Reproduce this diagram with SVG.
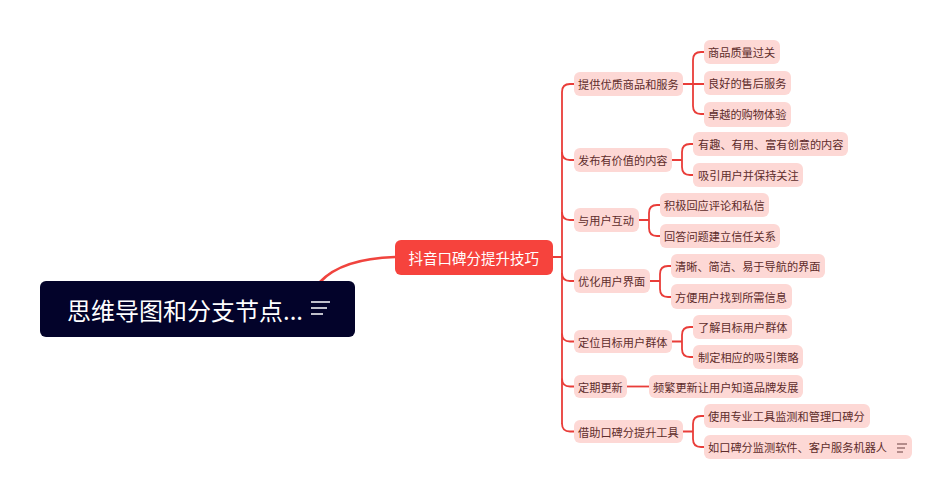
<svg xmlns="http://www.w3.org/2000/svg" width="952" height="500" viewBox="0 0 952 500">
<style>
text{font-family:"Noto Sans CJK SC","Noto Sans",sans-serif;dominant-baseline:central}
.n rect{fill:#fdd8d5}
.n text{font-size:11.2px;fill:#5e2c2b}
.c{fill:none;stroke:#e93d39;stroke-width:1.8}
.i{fill:none;stroke:#6b4040;stroke-width:1}
</style>
<rect width="952" height="500" fill="#fff"/>
<g id="connectors">
<path class="c" style="stroke-width:2.6;stroke:#f0443e" d="M320 282C335 266 362 258 395 257"/>
<path class="c" d="M553 257H562M562 92V424"/>
<path class="c" d="M562 92Q562 84 570 84H574M562 152Q562 160 570 160H574M562 212Q562 220 570 220H574M562 273Q562 281 570 281H574M562 333.500Q562 341.500 570 341.500H574M562 378.500Q562 386.500 570 386.500H574M562 423.500Q562 431.500 570 431.500H574"/>
<path class="c" d="M683 84H704M704 52H701Q693 52 693 60V106Q693 114 701 114H704"/>
<path class="c" d="M672 160H682M693 144H690Q682 144 682 152V167Q682 175 690 175H693"/>
<path class="c" d="M639 220H649M660 205H657Q649 205 649 213V228Q649 236 657 236H660"/>
<path class="c" d="M650 281H660M671 266H668Q660 266 660 274V289Q660 297 668 297H671"/>
<path class="c" d="M672 341.500H682M693 327H690Q682 327 682 335V349Q682 357 690 357H693"/>
<path class="c" d="M627 386.500H649"/>
<path class="c" d="M683 431.500H693M704 416H701Q693 416 693 424V439Q693 447 701 447H704"/>
</g>
<g id="root"><rect x="40" y="281" width="315" height="56" rx="6" fill="#03032a"/><text x="67" y="309.500" font-size="24" fill="#fff">思维导图和分支节点...</text><path d="M311 302H330M311 308H327M311 314H323" fill="none" stroke="#fff" stroke-width="1.500"/></g>
<g id="center"><rect x="395" y="240" width="158" height="35" rx="6" fill="#f6433d"/><text x="408.500" y="257" font-size="14.500" fill="#fff">抖音口碑分提升技巧</text></g>
<g class="n" id="a1"><rect x="574" y="72" width="109" height="24" rx="6"/><text x="578" y="83.500">提供优质商品和服务</text></g>
<g class="n" id="a1-1"><rect x="704" y="40" width="76" height="24" rx="6"/><text x="708" y="51.500">商品质量过关</text></g>
<g class="n" id="a1-2"><rect x="704" y="71" width="87" height="24" rx="6"/><text x="708" y="82.500">良好的售后服务</text></g>
<g class="n" id="a1-3"><rect x="704" y="102" width="87" height="25" rx="6"/><text x="708" y="113.500">卓越的购物体验</text></g>
<g class="n" id="a2"><rect x="574" y="148" width="98" height="24" rx="6"/><text x="578" y="159.500">发布有价值的内容</text></g>
<g class="n" id="a2-1"><rect x="693" y="132" width="155" height="24" rx="6"/><text x="698" y="144">有趣、有用、富有创意的内容</text></g>
<g class="n" id="a2-2"><rect x="693" y="163" width="110" height="24" rx="6"/><text x="698" y="174.500">吸引用户并保持关注</text></g>
<g class="n" id="a3"><rect x="574" y="208" width="65" height="24" rx="6"/><text x="578" y="219.500">与用户互动</text></g>
<g class="n" id="a3-1"><rect x="660" y="193" width="109" height="24" rx="6"/><text x="664" y="204.500">积极回应评论和私信</text></g>
<g class="n" id="a3-2"><rect x="660" y="224" width="120" height="24" rx="6"/><text x="664" y="235.500">回答问题建立信任关系</text></g>
<g class="n" id="a4"><rect x="574" y="269" width="76" height="24" rx="6"/><text x="578" y="280.500">优化用户界面</text></g>
<g class="n" id="a4-1"><rect x="671" y="254" width="154" height="24" rx="6"/><text x="675" y="265.500">清晰、简洁、易于导航的界面</text></g>
<g class="n" id="a4-2"><rect x="671" y="284" width="121" height="25" rx="6"/><text x="675" y="296.500">方便用户找到所需信息</text></g>
<g class="n" id="a5"><rect x="574" y="330" width="98" height="23" rx="6"/><text x="578" y="341.500">定位目标用户群体</text></g>
<g class="n" id="a5-1"><rect x="693" y="315" width="99" height="24" rx="6"/><text x="698" y="326.500">了解目标用户群体</text></g>
<g class="n" id="a5-2"><rect x="693" y="345" width="110" height="24" rx="6"/><text x="698" y="356.500">制定相应的吸引策略</text></g>
<g class="n" id="a6"><rect x="574" y="375" width="53" height="23" rx="6"/><text x="578" y="386.500">定期更新</text></g>
<g class="n" id="a6-1"><rect x="649" y="375" width="154" height="23" rx="6"/><text x="653" y="386.500">频繁更新让用户知道品牌发展</text></g>
<g class="n" id="a7"><rect x="574" y="420" width="109" height="23" rx="6"/><text x="578" y="431.500">借助口碑分提升工具</text></g>
<g class="n" id="a7-1"><rect x="704" y="404" width="166" height="24" rx="6"/><text x="708" y="415.500">使用专业工具监测和管理口碑分</text></g>
<g class="n" id="a7-2"><rect x="704" y="435" width="208" height="24" rx="6"/><text x="708" y="446.500">如口碑分监测软件、客户服务机器人</text><path class="i" d="M897 444H907M897 448H905M897 452H903"/></g>
</svg>
